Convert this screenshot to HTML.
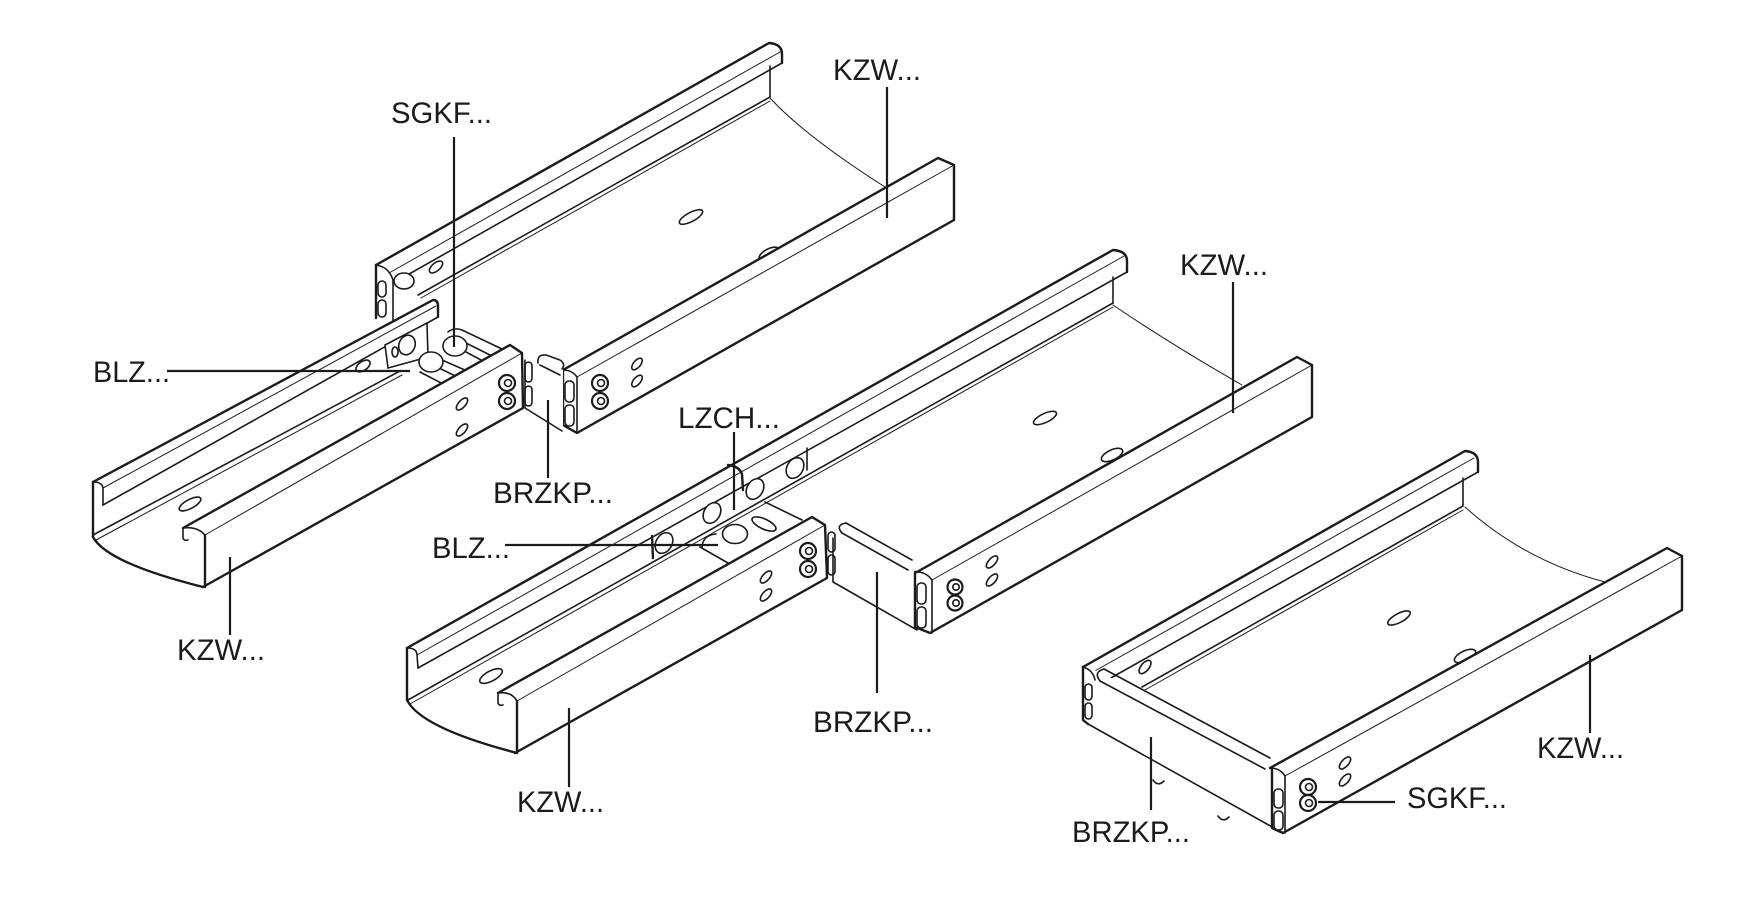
<!DOCTYPE html>
<html><head><meta charset="utf-8">
<style>
html,body{margin:0;padding:0;background:#fff;}
svg{display:block;}
.t{stroke:#1b1b1b;stroke-width:2.4;fill:none;stroke-linejoin:round;stroke-linecap:round}
.m{stroke:#1b1b1b;stroke-width:1.6;fill:none;stroke-linejoin:round;stroke-linecap:round}
.n{stroke:#1b1b1b;stroke-width:1;fill:none;stroke-linecap:round}
.w{fill:#fff;stroke:none}
.s{stroke:#1b1b1b;stroke-width:1.6;fill:#fff}
.b{stroke:#1b1b1b;stroke-width:2.2;fill:#fff}
.l{stroke:#1b1b1b;stroke-width:2.2;fill:none}
text{font-family:"Liberation Sans",Arial,sans-serif;font-size:30px;fill:#1b1b1b}
</style></head><body>
<svg width="1747" height="910" viewBox="0 0 1747 910" xmlns="http://www.w3.org/2000/svg">
<rect width="1747" height="910" fill="#fff"/>

<!-- ===== Tray A (top) ===== -->
<path class="t" d="M376,265 L769,43 Q782,44 782,54 L782,63"/>
<path class="n" d="M389,273 L780,52"/>
<path class="m" d="M395,282 L782,63"/>
<path class="m" d="M770,66 L770,97"/>
<path class="m" d="M770,97 L418,295"/>
<path class="n" d="M770,101 L421,298"/>
<path class="n" d="M770,98 Q805,136 885,187"/>
<path class="t" d="M376,265 L376,318"/>
<path class="m" d="M376,265 Q389,267 393,280 L393,320"/>
<rect class="m" x="378" y="281" width="8" height="16" rx="4"/>
<rect class="m" x="378" y="300" width="8" height="17" rx="4"/>
<ellipse class="s" cx="404" cy="281" rx="10" ry="8"/>
<ellipse class="s" cx="436" cy="267" rx="8" ry="4" transform="rotate(-40 436 267)"/>
<ellipse class="s" cx="691" cy="217" rx="13" ry="4.5" transform="rotate(-28 691 217)"/>
<ellipse class="s" cx="769" cy="254" rx="11" ry="5" transform="rotate(-28 769 254)"/>
<polygon class="w" points="563,370 938,158 954,165 954,220 577,433 563,425"/>
<path class="t" d="M563,370 L938,158 L954,165 L954,220 L577,433 L563,425 Z"/>
<path class="n" d="M577,377 L954,165"/>
<path class="m" d="M563,370 Q572,370 577,377 L577,433"/>
<rect class="m" x="565" y="381" width="9" height="21" rx="4"/>
<rect class="m" x="565" y="405" width="9" height="21" rx="4"/>
<ellipse class="s" cx="637" cy="364" rx="7" ry="3.5" transform="rotate(-50 637 364)"/>
<ellipse class="s" cx="637" cy="381" rx="7" ry="3.5" transform="rotate(-50 637 381)"/>
<circle class="b" cx="600" cy="383" r="8"/><circle class="m" cx="601" cy="383" r="3.5"/>
<circle class="b" cx="600" cy="401" r="8"/><circle class="m" cx="601" cy="401" r="3.5"/>

<!-- ===== Tray B far rail ===== -->
<polygon class="w" points="93,482 433,300 438,305 438,317 93,512"/>
<path class="t" d="M93,482 L433,300 Q438,300 438,306 L438,317"/>
<path class="n" d="M103,488 L436,306"/>
<path class="m" d="M103,505 L438,317"/>
<path class="m" d="M93,482 Q103,482 103,489 L103,505"/>
<path class="t" d="M93,482 L93,537"/>
<path class="m" d="M93,535 L400,371"/>
<path class="n" d="M96,540 L402,375"/>
<path class="t" d="M93,537 Q107,563 203,587"/>
<ellipse class="s" cx="190" cy="504" rx="12" ry="4.5" transform="rotate(-28 190 504)"/>
<ellipse class="s" cx="363" cy="366" rx="8" ry="4.5" transform="rotate(-35 363 366)"/>

<!-- left connectors -->
<polygon class="s" points="385,345 427,323 428,357 388,368"/>
<ellipse class="s" cx="407" cy="345" rx="8" ry="10" transform="rotate(20 407 345)"/>
<ellipse class="m" cx="395" cy="352" rx="3" ry="5"/>
<path class="m" d="M448,332 Q454,327 462,330 L502,349"/>
<path class="m" d="M466,343 L502,361"/>
<path class="m" d="M466,352 L498,369"/>
<path class="m" d="M442,360 L490,381"/>
<path class="m" d="M441,369 L482,389"/>
<path class="m" d="M420,372 L470,398"/>
<ellipse class="s" cx="455" cy="346" rx="12" ry="10"/>
<ellipse class="s" cx="431" cy="362" rx="12" ry="10"/>
<polygon class="w" points="523,357 540,355 563,365 563,433 525,410"/>
<path class="m" d="M538,363 Q537,354 546,355 L560,360 Q566,364 562,369"/>
<path class="m" d="M525,360 L525,408 L562,431"/>
<path class="m" d="M540,365 L560,375"/>

<!-- ===== Tray B near wall ===== -->
<polygon class="w" points="183,528 510,345 522,353 523,408 203,587 205,587 205,535 188,540 183,538"/>
<path class="t" d="M183,528 L510,345 L522,353 L523,408 L203,587"/>
<path class="n" d="M205,535 L522,353"/>
<path class="t" d="M205,535 L205,587"/>
<path class="m" d="M183,528 L183,538 Q184,541 188,540"/>
<path class="m" d="M183,528 Q197,526 205,535"/>
<rect class="m" x="525" y="362" width="7" height="20" rx="3.5"/>
<rect class="m" x="525" y="386" width="7" height="20" rx="3.5"/>
<ellipse class="s" cx="462" cy="404" rx="7.5" ry="3.5" transform="rotate(-48 462 404)"/>
<ellipse class="s" cx="462" cy="430" rx="7.5" ry="3.5" transform="rotate(-48 462 430)"/>
<circle class="b" cx="507" cy="383" r="8"/><circle class="m" cx="508" cy="383" r="3.5"/>
<circle class="b" cx="507" cy="401" r="8"/><circle class="m" cx="508" cy="401" r="3.5"/>

<!-- ===== Trays C/D shared far rail ===== -->
<path class="t" d="M407,648 L1113,250 Q1127,251 1127,261 L1127,272"/>
<path class="n" d="M417,655 L1124,256"/>
<path class="m" d="M418,668 L1127,272"/>
<path class="m" d="M407,648 Q417,648 417,655 L418,668"/>
<path class="t" d="M407,648 L407,700"/>
<path class="m" d="M1113,277 L1113,303"/>
<path class="m" d="M408,700 L1113,303"/>
<path class="n" d="M410,704 L1113,307"/>
<path class="t" d="M407,700 Q421,728 517,753"/>
<path class="n" d="M1113,305 Q1172,345 1242,385"/>
<ellipse class="s" cx="1045" cy="418" rx="12.5" ry="4.5" transform="rotate(-25 1045 418)"/>
<ellipse class="s" cx="1112" cy="455" rx="11.5" ry="5" transform="rotate(-25 1112 455)"/>
<ellipse class="s" cx="491" cy="676" rx="12.5" ry="5" transform="rotate(-28 491 676)"/>

<!-- middle connectors -->
<path class="t" d="M652,536 L653,558"/>
<path class="m" d="M807,448 L807,470"/>
<ellipse class="s" cx="664" cy="543" rx="8" ry="11" transform="rotate(30 664 543)"/>
<ellipse class="s" cx="712" cy="513" rx="8" ry="11" transform="rotate(30 712 513)"/>
<ellipse class="s" cx="755" cy="489" rx="8" ry="11" transform="rotate(30 755 489)"/>
<ellipse class="s" cx="795" cy="468" rx="8" ry="11" transform="rotate(30 795 468)"/>
<path class="t" d="M728,465 Q739,466 742,474 L743,490"/>
<path class="m" d="M765,502 L802,520"/>
<path class="m" d="M700,547 L728,563"/>
<ellipse class="s" cx="764" cy="524" rx="13" ry="5" transform="rotate(25 764 524)"/>
<path class="m" d="M702,547 Q703,535 716,534"/>
<ellipse class="s" cx="735" cy="534" rx="12.5" ry="9.5"/>
<polygon class="w" points="829,528 845,523 917,562 917,630 833,582"/>
<path class="m" d="M846,523 L912,560"/>
<path class="m" d="M842,533 L908,570"/>
<path class="m" d="M846,523 Q835,525 842,533"/>
<path class="m" d="M833,538 L833,582 L917,630"/>
<rect class="m" x="828" y="532" width="7" height="20" rx="3.5"/>
<rect class="m" x="828" y="555" width="7" height="20" rx="3.5"/>

<!-- ===== Tray C near wall ===== -->
<polygon class="w" points="915,572 917,572 1297,357 1312,365 1312,417 930,633 915,628"/>
<path class="t" d="M917,572 L1297,357 L1312,365 L1312,417 L930,633 L915,627 L915,572 Z"/>
<path class="n" d="M932,580 L1312,365"/>
<path class="m" d="M917,572 Q926,572 932,580 L932,633"/>
<rect class="m" x="917" y="583" width="9" height="21" rx="4"/>
<rect class="m" x="917" y="607" width="9" height="21" rx="4"/>
<ellipse class="s" cx="992" cy="562" rx="7.5" ry="3.5" transform="rotate(-48 992 562)"/>
<ellipse class="s" cx="992" cy="580" rx="7.5" ry="3.5" transform="rotate(-48 992 580)"/>
<circle class="b" cx="955" cy="587" r="7.5"/><circle class="m" cx="956" cy="587" r="3.2"/>
<circle class="b" cx="955" cy="603" r="7.5"/><circle class="m" cx="956" cy="603" r="3.2"/>

<!-- ===== Tray D near wall ===== -->
<polygon class="w" points="498,693 812,517 825,525 827,578 515,753 517,753 517,701 503,705 498,703"/>
<path class="t" d="M498,693 L812,517 L825,525 L827,578 L515,753"/>
<path class="n" d="M517,701 L825,525"/>
<path class="t" d="M517,701 L517,753"/>
<path class="m" d="M498,693 L498,703 Q499,706 503,705"/>
<path class="m" d="M498,693 Q511,691 517,701"/>
<ellipse class="s" cx="766" cy="577" rx="7.5" ry="3.5" transform="rotate(-48 766 577)"/>
<ellipse class="s" cx="766" cy="595" rx="7.5" ry="3.5" transform="rotate(-48 766 595)"/>
<circle class="b" cx="808" cy="551" r="8"/><circle class="m" cx="809" cy="551" r="3.5"/>
<circle class="b" cx="808" cy="569" r="8"/><circle class="m" cx="809" cy="569" r="3.5"/>

<!-- ===== Tray E ===== -->
<path class="t" d="M1083,667 L1465,451 Q1478,452 1478,462 L1478,472"/>
<path class="n" d="M1093,672 L1474,458"/>
<path class="m" d="M1100,684 L1478,472"/>
<path class="m" d="M1463,478 L1463,505"/>
<path class="m" d="M1463,506 L1142,687"/>
<path class="n" d="M1463,510 L1145,690"/>
<path class="n" d="M1465,507 Q1525,561 1605,582"/>
<ellipse class="s" cx="1145" cy="667" rx="8" ry="4" transform="rotate(-50 1145 667)"/>
<ellipse class="s" cx="1399" cy="618" rx="12.5" ry="4.5" transform="rotate(-28 1399 618)"/>
<ellipse class="s" cx="1465" cy="656" rx="11.5" ry="5" transform="rotate(-25 1465 656)"/>
<!-- end plate BRZKP -->
<polygon class="w" points="1083,667 1100,672 1272,763 1285,775 1283,833 1087,723 1083,720"/>
<path class="t" d="M1083,667 L1083,720 L1088,724"/>
<path class="m" d="M1083,667 Q1093,670 1095,680"/>
<rect class="m" x="1085" y="684" width="7" height="16" rx="3.5"/>
<rect class="m" x="1085" y="703" width="7" height="16" rx="3.5"/>
<path class="m" d="M1104,669 L1270,758"/>
<path class="m" d="M1100,681 L1265,769"/>
<path class="m" d="M1104,669 Q1093,672 1100,681"/>
<path class="m" d="M1088,724 L1283,833"/>
<path class="m" d="M1153,780 Q1158,787 1164,781"/>
<path class="m" d="M1218,816 Q1223,823 1229,817"/>
<!-- near wall E -->
<polygon class="w" points="1270,768 1667,548 1682,556 1682,610 1283,833 1272,828"/>
<path class="t" d="M1270,768 L1667,548 L1682,556 L1682,610 L1283,833 L1272,828 L1272,768"/>
<path class="n" d="M1285,776 L1682,556"/>
<path class="m" d="M1270,768 Q1280,768 1285,776 L1285,833"/>
<rect class="m" x="1274" y="789" width="9" height="19" rx="4"/>
<rect class="m" x="1274" y="811" width="9" height="19" rx="4"/>
<ellipse class="s" cx="1345" cy="763" rx="7.5" ry="3.5" transform="rotate(-48 1345 763)"/>
<ellipse class="s" cx="1345" cy="780" rx="7.5" ry="3.5" transform="rotate(-48 1345 780)"/>
<circle class="b" cx="1308" cy="787" r="8"/><circle class="m" cx="1309" cy="787" r="3.5"/>
<circle class="b" cx="1308" cy="803" r="8"/><circle class="m" cx="1309" cy="803" r="3.5"/>

<!-- ===== Leaders ===== -->
<path class="l" d="M887,87 L887,218"/>
<path class="l" d="M454,137 L454,347"/>
<path class="l" d="M167,371 L410,371"/>
<path class="l" d="M548,400 L548,478"/>
<path class="l" d="M734,432 L734,510"/>
<path class="l" d="M505,545 L718,545"/>
<path class="l" d="M877,572 L877,693"/>
<path class="l" d="M230,557 L230,635"/>
<path class="l" d="M569,708 L569,787"/>
<path class="l" d="M1233,282 L1233,413"/>
<path class="l" d="M1590,655 L1590,733"/>
<path class="l" d="M1318,802 L1395,802"/>
<path class="l" d="M1151,737 L1151,810"/>

<!-- ===== Labels ===== -->
<text x="833" y="80" textLength="88" lengthAdjust="spacingAndGlyphs">KZW...</text>
<text x="391" y="123" textLength="101" lengthAdjust="spacingAndGlyphs">SGKF...</text>
<text x="93" y="382" textLength="77" lengthAdjust="spacingAndGlyphs">BLZ...</text>
<text x="493" y="503" textLength="120" lengthAdjust="spacingAndGlyphs">BRZKP...</text>
<text x="678" y="428" textLength="102" lengthAdjust="spacingAndGlyphs">LZCH...</text>
<text x="432" y="558" textLength="78" lengthAdjust="spacingAndGlyphs">BLZ...</text>
<text x="813" y="732" textLength="120" lengthAdjust="spacingAndGlyphs">BRZKP...</text>
<text x="177" y="660" textLength="88" lengthAdjust="spacingAndGlyphs">KZW...</text>
<text x="517" y="812" textLength="87" lengthAdjust="spacingAndGlyphs">KZW...</text>
<text x="1180" y="275" textLength="88" lengthAdjust="spacingAndGlyphs">KZW...</text>
<text x="1537" y="758" textLength="87" lengthAdjust="spacingAndGlyphs">KZW...</text>
<text x="1407" y="808" textLength="100" lengthAdjust="spacingAndGlyphs">SGKF...</text>
<text x="1072" y="842" textLength="118" lengthAdjust="spacingAndGlyphs">BRZKP...</text>
</svg>
</body></html>
